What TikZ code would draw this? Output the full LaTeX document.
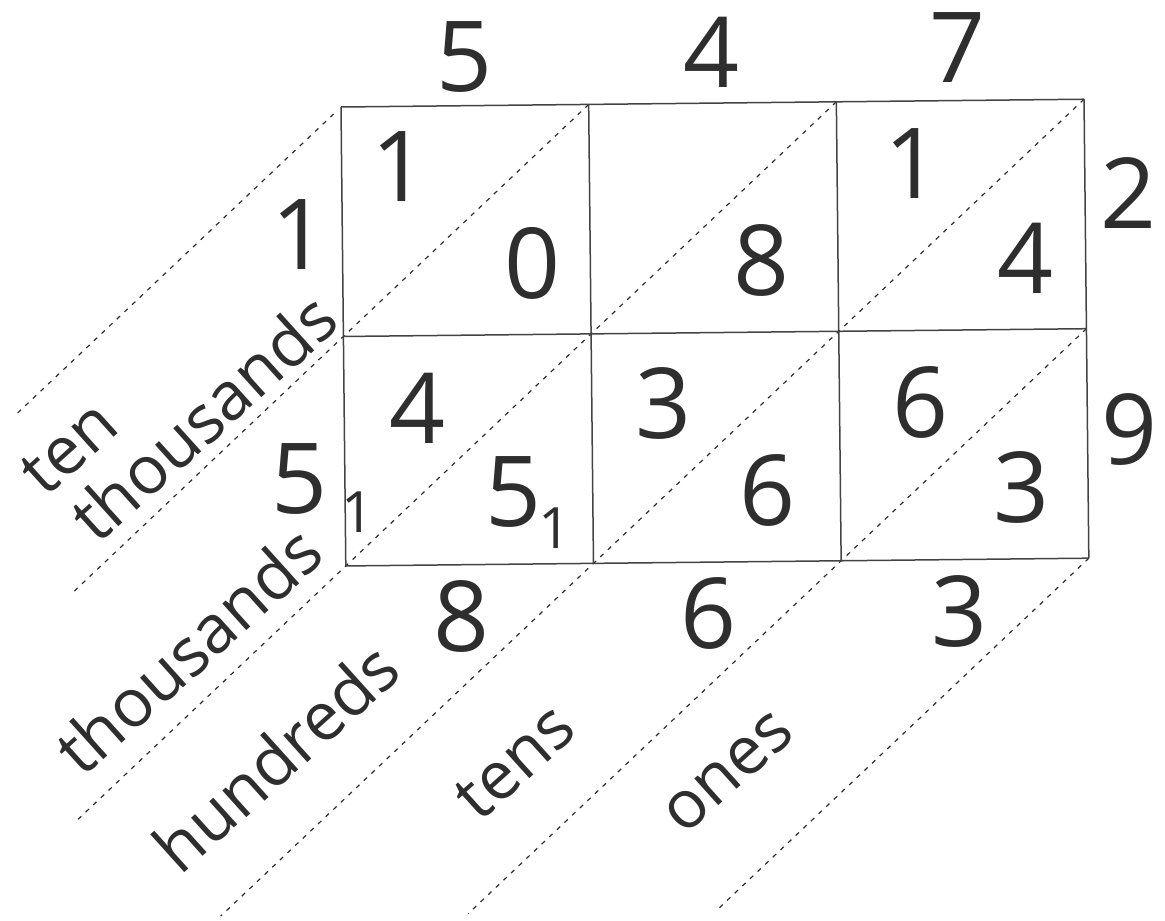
\documentclass[tikz,border=0pt]{standalone}
\usepackage{fontspec}
\setmainfont{Open Sans}
\definecolor{ink}{gray}{0.18}
\begin{document}
\begin{tikzpicture}[x=1pt,y=-1pt,
  big/.style={font=\fontsize{98}{98}\selectfont, text=ink, inner sep=0pt},
  small/.style={font=\fontsize{57}{57}\selectfont, text=ink, inner sep=0pt},
  place/.style={font=\fontsize{67}{67}\selectfont, text=ink, inner sep=0pt, rotate=42},
  gridline/.style={draw=ink!90, line width=1.5pt},
  diag/.style={draw=ink, line width=1.2pt, dash pattern=on 4.5pt off 6pt}]
\useasboundingbox (0,0) rectangle (1165,921);

% lattice: 3 columns x 2 rows, slightly tilted
\def\w{247.7}
\def\h{229.5}
\begin{scope}[shift={(341,107)}, rotate=0.6]
  \foreach \i in {0,...,3}
    \foreach \j in {0,...,2}
      \coordinate (g\i\j) at ({\i*\w},{\j*\h});
  % diagonal place-value lines: line k meets the top edge at k cells
  \foreach \k/\ta/\tb in {0/0.03/1.33, 1/0/2.1, 2/0/3.1, 3/0/3.52, 4/1/3.52, 5/2/3.52} {
    \coordinate (s\k) at ({(\k-\ta)*\w},{\ta*\h});
    \coordinate (e\k) at ({(\k-\tb)*\w},{\tb*\h});
  }
\end{scope}

\foreach \k in {0,...,5}
  \draw[diag] (s\k) -- (e\k);

\foreach \j in {0,1,2}
  \draw[gridline] (g0\j) -- (g3\j);
\foreach \i in {0,...,3}
  \draw[gridline] (g\i0) -- (g\i2);

% factors
\node[big] (t1) at (465,57) {5};
\node[big] (t2) at (712,52) {4};
\node[big] (t3) at (958,48) {7};
\node[big] (r1) at (1129,193) {2};
\node[big] (r2) at (1130,429) {9};

% partial products
\node[big] (a1) at (400,167) {1};
\node[big] (a2) at (533,263) {0};
\node[big] (b2) at (762,260) {8};
\node[big] (c1) at (913,164) {1};
\node[big] (c2) at (1026,258) {4};
\node[big] (d1) at (418,408) {4};
\node[big] (d2) at (514,492) {5};
\node[small] (d3) at (555,528) {1};
\node[small] (d4) at (358,512) {1};
\node[big] (e1n) at (664,403) {3};
\node[big] (e2n) at (768,490) {6};
\node[big] (f1) at (921,402) {6};
\node[big] (f2) at (1022,487) {3};

% product digits
\node[big] (p1) at (300,235) {1};
\node[big] (p2) at (300,479) {5};
\node[big] (p3) at (462,616) {8};
\node[big] (p4) at (709,613) {6};
\node[big] (p5) at (960,611) {3};

% place names
\node[place] (n1) at (69,448) {ten};
\node[place] (n2) at (203,417) {thousands};
\node[place] (n3) at (188,650) {thousands};
\node[place] (n4) at (276,757) {hundreds};
\node[place] (n5) at (515,762) {tens};
\node[place] (n6) at (729,773) {ones};
\end{tikzpicture}
\end{document}
